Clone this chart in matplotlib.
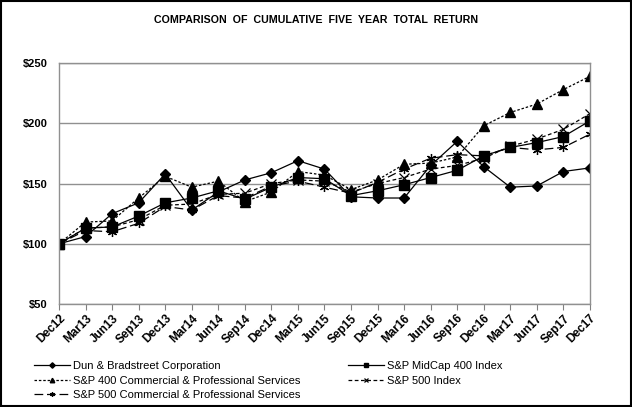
import numpy as np
import matplotlib
matplotlib.use("Agg")
import matplotlib.pyplot as plt

plt.rcParams['font.family'] = ['Liberation Sans', 'DejaVu Sans']

# quarter labels and cumulative return values ($)
quarters = ["Dec12", "Mar13", "Jun13", "Sep13", "Dec13", "Mar14", "Jun14", "Sep14",
            "Dec14", "Mar15", "Jun15", "Sep15", "Dec15", "Mar16", "Jun16", "Sep16",
            "Dec16", "Mar17", "Jun17", "Sep17", "Dec17"]
dnb = [100, 106, 125, 134, 158, 128, 143, 153, 159, 169, 162, 139, 138, 138, 165, 185,
       164, 147, 148, 160, 163]
midcap400 = [100, 113, 114, 123, 134, 138, 144, 137, 147, 155, 154, 140, 144, 149, 155, 161,
             173, 180, 184, 189, 202]
sp400_cps = [100, 118, 119, 138, 156, 147, 152, 135, 143, 160, 157, 145, 153, 166, 167, 172,
             198, 209, 216, 228, 239]
sp500 = [100, 113, 114, 120, 132, 133, 141, 142, 150, 153, 152, 143, 150, 155, 162, 165,
         171, 181, 187, 195, 208]
sp500_cps = [100, 111, 110, 117, 131, 128, 140, 138, 148, 152, 147, 142, 151, 162, 171, 174,
             173, 180, 178, 180, 191]

y_ticks = [50, 100, 150, 200, 250]

fig = plt.figure(figsize=(6.32, 4.07), dpi=100)
ax = fig.add_axes([0.0934, 0.253, 0.840, 0.592])

x = np.arange(len(quarters))
ms = 6.5
ax.plot(x, dnb, color='black', lw=0.9, ls='-', marker='D', ms=ms - 1,
        label='Dun & Bradstreet Corporation')
ax.plot(x, midcap400, color='black', lw=0.9, ls='-', marker='s', ms=ms,
        label='S&P MidCap 400 Index')
ax.plot(x, sp400_cps, color='black', lw=0.9, ls=(0, (2, 1.5)), marker='^', ms=ms,
        label='S&P 400 Commercial & Professional Services')
ax.plot(x, sp500, color='black', lw=0.9, ls=(0, (3, 2)), marker='x', ms=ms, mew=0.9,
        label='S&P 500 Index')
ax.plot(x, sp500_cps, color='black', lw=0.9, ls=(0, (7, 3)), marker=(6, 2, 0), ms=ms,
        mew=0.9, label='S&P 500 Commercial & Professional Services')

ax.set_xlim(0, len(quarters) - 1)
ax.set_ylim(50, 250)
ax.set_yticks(y_ticks)
ax.set_yticklabels([f"${v}" for v in y_ticks], fontsize=8, fontweight='bold')
ax.set_xticks(x)
ax.set_xticklabels(quarters, rotation=45, ha='right', rotation_mode='anchor',
                   fontsize=8.5, fontweight='bold')
ax.tick_params(axis='y', length=0, pad=8)
ax.tick_params(axis='x', length=4, direction='out', color='#808080', pad=2)
ax.grid(axis='y', color='#909090', lw=1)
for s in ax.spines.values():
    s.set_color('#909090')
    s.set_linewidth(1)
ax.set_axisbelow(True)

fig.text(0.5, 0.951, "COMPARISON  OF  CUMULATIVE  FIVE  YEAR  TOTAL  RETURN",
         ha='center', va='center', fontsize=7.7, fontweight='bold')

handles, labels = ax.get_legend_handles_labels()
order = [0, 2, 4, 1, 3]
fig.legend([handles[i] for i in order], [labels[i] for i in order],
           loc='upper left', bbox_to_anchor=(0.045, 0.127), ncol=2, frameon=False,
           fontsize=8, markerscale=0.5, handlelength=3.2, handletextpad=0.3,
           labelspacing=0.42, columnspacing=4.3, borderpad=0)

# outer frame
fig.patches.append(plt.Rectangle((0.001, 0.002), 0.997, 0.996, transform=fig.transFigure,
                                 fill=False, edgecolor='black', lw=1.5))

fig.savefig("out.png", dpi=100)
